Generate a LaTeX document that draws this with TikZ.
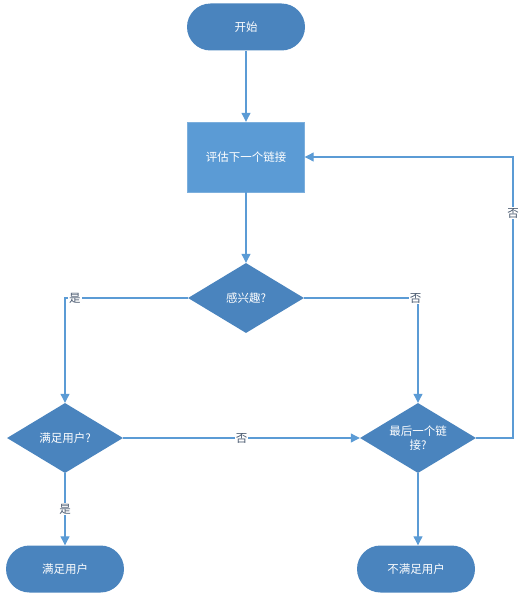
\documentclass[tikz,border=0pt]{standalone}
\usepackage{fontspec}
\setmainfont{Noto Sans CJK SC}
\usetikzlibrary{shapes.geometric,arrows.meta}
\definecolor{darkblue}{HTML}{4A84BE}
\definecolor{lightblue}{HTML}{5B9BD5}
\definecolor{labelgray}{HTML}{4A5A70}
\tikzset{
  terminal/.style={rectangle, rounded corners=23.5pt, fill=darkblue, text=white,
    minimum width=118pt, minimum height=47pt, inner sep=0pt},
  process/.style={rectangle, fill=lightblue, draw=lightblue!80!white, text=white,
    minimum width=117pt, minimum height=70pt, inner sep=0pt},
  decision/.style={diamond, aspect=1.66, fill=darkblue, text=white, align=center,
    minimum width=116pt, minimum height=70pt, inner sep=0pt},
  flow/.style={draw=lightblue, line width=1.1pt, -{Triangle[width=9pt,length=9pt]}},
  tag/.style={fill=white, text=labelgray, inner sep=1pt}
}
\begin{document}
\begin{tikzpicture}[x=1pt,y=-1pt,font=\fontsize{11.5}{14}\selectfont]
        \useasboundingbox (0,0) rectangle (527,602);

        % Nodes
        \node[terminal] (start) at (246,27) {开始};
        \node[process] (eval) at (246,157) {评估下一个链接};
        \node[decision] (interest) at (246,298) {感兴趣?};
        \node[decision] (satisfy) at (65,438) {满足用户?};
        \node[decision] (last) at (418,438) {最后一个链\\接?};
        \node[terminal] (yes) at (65,569) {满足用户};
        \node[terminal] (no) at (416,569) {不满足用户};
        \coordinate (loop) at (513,438);

        % Connectors
        \draw[flow] (start) -- (eval);
        \draw[flow] (eval) -- (interest);
        \draw[flow] (interest.west) -| node[tag, pos=0.46] {是} (satisfy.north);
        \draw[flow] (interest.east) -| node[tag, pos=0.49] {否} (last.north);
        \draw[flow] (satisfy.east) -- node[tag] {否} (last.west);
        \draw[flow] (satisfy.south) -- node[tag] {是} (yes.north);
        \draw[flow] (last.south) -- (no.north -| last.south);
        \draw[flow] (last.east) -- (loop) |- node[tag, pos=0.4] {否} (eval.east);
      \end{tikzpicture}
\end{document}
